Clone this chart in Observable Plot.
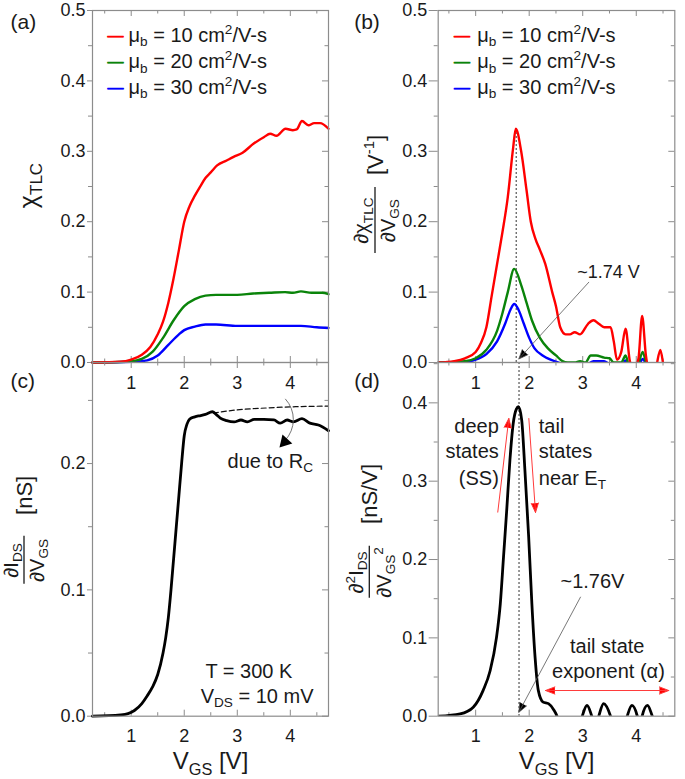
<!DOCTYPE html>
<html><head><meta charset="utf-8">
<script src="https://cdn.jsdelivr.net/npm/d3@7"></script>
<script src="https://cdn.jsdelivr.net/npm/@observablehq/plot@0.6"></script>
<style>
body{margin:0;background:#fff;}
#fig{position:relative;width:685px;height:779px;overflow:hidden;background:#fff;}
.pnl{position:absolute;}
</style></head><body><div id="fig"></div><script>
// ---------- tick values ----------
const xMajor = [1, 2, 3, 4];
const xMinor = [0.5, 1.5, 2.5, 3.5, 4.5];
const yMajorA = [0, 0.1, 0.2, 0.3, 0.4, 0.5];
const yMinorA = [0.05, 0.15, 0.25, 0.35, 0.45];
const yMajorC = [0, 0.1, 0.2];
const yMinorC = [0.05, 0.15, 0.25];
const yMajorD = [0, 0.1, 0.2, 0.3, 0.4];
const yMinorD = [0.05, 0.15, 0.25, 0.35, 0.45];

// ---------- series ----------
const seriesColors = ["#ff0000", "#0a840a", "#0000ff"];
const legendLabels = ["μ_{b} = 10 cm^{2}/V-s", "μ_{b} = 20 cm^{2}/V-s", "μ_{b} = 30 cm^{2}/V-s"];

// (a) chi_TLC vs VGS
const aVgs10 = [0.27,0.8,1.0,1.2,1.36,1.5,1.6,1.7,1.8,1.9,2.0,2.1,2.2,2.3,2.4,2.5,2.62,2.8,2.93,3.1,3.31,3.5,3.62,3.74,3.91,4.05,4.12,4.22,4.34,4.45,4.56,4.72];
const aChi10 = [0,0.001,0.004,0.011,0.022,0.04,0.058,0.085,0.12,0.16,0.2,0.222,0.237,0.25,0.262,0.27,0.28,0.287,0.292,0.298,0.311,0.32,0.325,0.322,0.332,0.330,0.331,0.343,0.337,0.34,0.340,0.332];
const aVgs20 = [0.27,0.9,1.1,1.2,1.4,1.6,1.8,2.0,2.2,2.4,2.6,3.0,3.3,3.6,3.9,4.05,4.2,4.4,4.6,4.72];
const aChi20 = [0,0.001,0.003,0.005,0.015,0.035,0.06,0.08,0.09,0.095,0.096,0.096,0.098,0.099,0.1,0.099,0.101,0.099,0.099,0.097];
const aVgs30 = [0.27,1.0,1.2,1.3,1.5,1.7,1.9,2.0,2.2,2.4,2.6,3.0,3.5,4.0,4.2,4.5,4.72];
const aChi30 = [0,0.001,0.002,0.003,0.01,0.025,0.04,0.046,0.051,0.054,0.054,0.052,0.052,0.052,0.052,0.05,0.049];

// (b) d chi / d VGS
const bVgs10 = [0.3,0.6,0.8,1.0,1.1,1.2,1.3,1.4,1.5,1.6,1.7,1.75,1.85,1.95,2.03,2.12,2.2,2.3,2.43,2.5,2.58,2.68,2.76,2.85,2.95,3.1,3.2,3.3,3.4,3.52,3.58,3.64,3.72,3.8,3.88,3.95,4.04,4.11,4.18,4.25,4.35,4.45,4.53,4.72];
const bD10 = [0,0.002,0.006,0.015,0.028,0.05,0.095,0.14,0.185,0.235,0.305,0.332,0.3,0.245,0.2,0.175,0.16,0.14,0.1,0.08,0.05,0.04,0.04,0.043,0.04,0.055,0.06,0.055,0.05,0.05,0.03,0.004,0.015,0.048,0.002,-0.01,0.005,0.066,0.01,-0.01,-0.01,0.018,-0.01,-0.01];
const bVgs20 = [0.3,0.8,1.0,1.2,1.4,1.5,1.6,1.72,1.85,1.95,2.05,2.2,2.35,2.5,2.62,2.72,2.85,2.95,3.05,3.15,3.25,3.4,3.5,3.58,3.72,3.8,3.87,4.02,4.12,4.2,4.3,4.72];
const bD20 = [0,0.002,0.006,0.018,0.045,0.07,0.1,0.133,0.11,0.085,0.06,0.035,0.02,0.01,0.002,0,0,0.002,0,0.01,0.01,0.007,0.006,0,0,0.01,-0.005,-0.005,0.015,-0.005,-0.01,-0.01];
const bVgs30 = [0.3,0.8,1.0,1.2,1.4,1.55,1.65,1.72,1.8,1.9,2.0,2.1,2.25,2.4,2.55,2.7,3.1,3.2,3.4,3.5,3.75,3.8,3.85,4.05,4.12,4.2,4.3,4.72];
const bD30 = [0,0.001,0.004,0.012,0.03,0.055,0.075,0.083,0.075,0.055,0.035,0.02,0.01,0.004,0,-0.005,-0.002,0.002,0.002,-0.002,-0.002,0.003,-0.002,-0.002,0.005,-0.005,-0.01,-0.01];

// (c) dIDS/dVGS
const cVgs = [0.27,0.8,0.94,1.06,1.2,1.3,1.4,1.5,1.6,1.65,1.7,1.75,1.8,1.85,1.9,1.95,2.0,2.05,2.1,2.2,2.31,2.4,2.53,2.6,2.68,2.8,2.94,3.07,3.19,3.32,3.5,3.69,3.81,3.94,4.06,4.22,4.37,4.53,4.72];
const cG = [0,0.001,0.002,0.0045,0.01,0.016,0.023,0.033,0.05,0.062,0.078,0.1,0.125,0.15,0.175,0.2,0.222,0.231,0.235,0.237,0.238,0.239,0.241,0.239,0.236,0.234,0.233,0.2345,0.233,0.235,0.235,0.2345,0.232,0.2345,0.233,0.2355,0.232,0.2305,0.226];
const cDashV = [2.55, 3.0, 3.55, 4.1, 4.72];
const cDashG = [0.240, 0.2425, 0.244, 0.245, 0.2455];

// (d) d2IDS/dVGS2
const dVgs = [0.31,0.71,0.955,1.14,1.27,1.39,1.46,1.52,1.58,1.64,1.70,1.76,1.80,1.86,1.92,1.99,2.05,2.11,2.17,2.26,2.36,2.46,2.52,2.6,2.9,2.99,3.08,3.17,3.24,3.3,3.39,3.52,3.6,3.75,3.83,3.92,4.02,4.07,4.11,4.21,4.3,4.4,4.72];
const dG2 = [0,0.003,0.0115,0.033,0.058,0.101,0.1435,0.203,0.263,0.327,0.373,0.392,0.395,0.378,0.314,0.229,0.1435,0.075,0.033,0.018,0.016,0.008,0,-0.02,-0.02,0,0.0137,0,-0.015,0,0.016,0,-0.02,-0.02,0,0.0137,0,-0.015,0,0.0137,0,-0.02,-0.02];

// ---------- annotations ----------
const bPeakMark = [{x: 1.757, y: 0.332}];
const bNote = [{x: 2.897, y: 0.128, t: "~1.74 V"}];
const bArrow = [{x1: 3.113, y1: 0.114, x2: 1.806, y2: 0.005}];
const cNotes = [
  {x: 2.40, y: 0.0354, t: "T = 300 K"},
  {x: 2.31, y: 0.0156, t: "V_{DS} = 10 mV"},
  {x: 2.816, y: 0.2018, t: "due to R_{C}"}
];
const cCurl = [{x1: 3.91, y1: 0.251, x2: 3.905, y2: 0.2185}];
const cCurlHead = [{x: 3.895, y: 0.2172}];
const dPeakLine = [1.81];
const dLeftNotes = [{x: 1.432, y: 0.37, t: "deep"}, {x: 1.432, y: 0.338, t: "states"}, {x: 1.432, y: 0.3035, t: "(SS)"}];
const dRightNotes = [{x: 2.179, y: 0.37, t: "tail"}, {x: 2.179, y: 0.338, t: "states"}, {x: 2.179, y: 0.3035, t: "near E_{T}"}];
const dRedArrows = [
  {x1: 1.413, y1: 0.2605, x2: 1.619, y2: 0.38},
  {x1: 1.993, y1: 0.38, x2: 2.118, y2: 0.26},
  {x1: 3.456, y1: 0.0328, x2: 2.305, y2: 0.0328},
  {x1: 3.456, y1: 0.0328, x2: 4.608, y2: 0.0328}
];
const dNote = [{x: 2.585, y: 0.172, t: "~1.76V"}];
const dArrow = [{x1: 2.958, y1: 0.152, x2: 1.806, y2: 0.005}];
const dTailNotes = [{x: 3.457, y: 0.089, t: "tail state"}, {x: 3.48, y: 0.057, t: "exponent (α)"}];

// ---------- helpers ----------
const FONT = '"Liberation Sans", Arial, Helvetica, sans-serif';
const GRID = "#8c8c8c";
const INK = "#1a1a1a";
const TICK_FS = 18;
const MID = "middle";
const rows = (xs, ys) => xs.map((x, i) => ({x, y: ys[i]}));

function richify(svg) {
  const ns = "http://www.w3.org/2000/svg";
  svg.querySelectorAll("text").forEach((t) => {
    const s = t.textContent;
    if (!/[_^]\{/.test(s)) return;
    let fs = 16;
    for (let n = t; n && n !== svg; n = n.parentNode) {
      const a = n.getAttribute && n.getAttribute("font-size");
      if (a) { fs = parseFloat(a); break; }
    }
    t.textContent = "";
    const re = /([_^])\{([^}]*)\}/g;
    let last = 0, m, shift = 0;
    const add = (str, kind) => {
      if (!str) return;
      const sp = document.createElementNS(ns, "tspan");
      const target = kind === "_" ? 0.22 * fs : kind === "^" ? -0.4 * fs : 0;
      if (target !== shift) sp.setAttribute("dy", target - shift);
      shift = target;
      if (kind) sp.setAttribute("font-size", 0.68 * fs);
      sp.textContent = str;
      t.appendChild(sp);
    };
    while ((m = re.exec(s))) { add(s.slice(last, m.index), null); add(m[2], m[1]); last = re.lastIndex; }
    add(s.slice(last), null);
  });
}

function makePanel(c) {
  const W = c.width - c.ml - c.mr, H = c.height - c.mt - c.mb;
  const tk = {stroke: GRID, strokeWidth: 1};
  const marks = [
    Plot.tickX(xMajor, {x: d => d, insetTop: H - 6, ...tk}),
    Plot.tickX(xMinor, {x: d => d, insetTop: H - 3.5, ...tk}),
    Plot.tickX(xMajor, {x: d => d, insetBottom: H - 6, ...tk}),
    Plot.tickX(xMinor, {x: d => d, insetBottom: H - 3.5, ...tk}),
    Plot.tickY(c.yMajor, {y: d => d, insetLeft: W - 6, ...tk}),
    Plot.tickY(c.yMinor, {y: d => d, insetLeft: W - 3.5, ...tk}),
    Plot.tickY(c.yMajor, {y: d => d, insetLeft: -c.lt, insetRight: W, ...tk}),
    Plot.tickY(c.yMinor, {y: d => d, insetLeft: -4, insetRight: W, ...tk}),
    Plot.text(c.yMajor, {y: d => d, text: d => d.toFixed(1), frameAnchor: "left", textAnchor: "end", lineAnchor: MID, dx: -(c.lt + 2), fontSize: TICK_FS, fill: INK}),
    Plot.text([c.label], {text: d => d, frameAnchor: "top-left", textAnchor: "start", lineAnchor: MID, dx: c.labelDx, dy: c.labelDy, fontSize: 21, fill: INK})
  ];
  if (c.bottom) {
    marks.push(
      Plot.text(xMajor, {x: d => d, text: d => String(d), frameAnchor: "bottom", textAnchor: MID, lineAnchor: MID, dy: 20.5, fontSize: TICK_FS, fill: INK}),
      Plot.text(xMajor, {x: d => d, text: d => String(d), frameAnchor: "top", textAnchor: MID, lineAnchor: MID, dy: 21, fontSize: TICK_FS, fill: INK}),
      Plot.text(["V_{GS} [V]"], {text: d => d, frameAnchor: "bottom", textAnchor: MID, lineAnchor: MID, dy: 45.5, fontSize: 24, fill: INK})
    );
  }
  for (const yt of c.yTitles) {
    marks.push(Plot.text([yt.t], {text: d => d, frameAnchor: "left", textAnchor: MID, lineAnchor: MID, rotate: -90, dx: yt.dx, dy: yt.dy, fontSize: yt.fs, fill: INK}));
  }
  marks.push(...c.marks, Plot.frame({stroke: GRID, strokeWidth: 1.2}));
  const svg = Plot.plot({
    width: c.width, height: c.height,
    marginLeft: c.ml, marginRight: c.mr, marginTop: c.mt, marginBottom: c.mb,
    style: {background: "transparent", overflow: "visible", fontFamily: FONT},
    x: {domain: c.xDomain, axis: null},
    y: {domain: c.yDomain, axis: null},
    marks
  });
  richify(svg);
  const midY = c.mt + H / 2;
  for (const b of (c.bars || [])) {
    d3.select(svg).append("line")
      .attr("x1", c.ml + b.dx).attr("x2", c.ml + b.dx)
      .attr("y1", midY + b.dy - b.half).attr("y2", midY + b.dy + b.half)
      .attr("stroke", INK).attr("stroke-width", 1.3);
  }
  const div = document.createElement("div");
  div.className = "pnl";
  div.style.left = c.left + "px"; div.style.top = c.top + "px";
  div.style.width = c.width + "px"; div.style.height = c.height + "px";
  div.appendChild(svg);
  document.getElementById("fig").appendChild(div);
}

function legendMarks(swEnd, txDx) {
  const out = [];
  const rowsDy = [25, 51.5, 77];
  legendLabels.forEach((lab, i) => {
    out.push(Plot.text(["—"], {text: d => d, frameAnchor: "top-left", textAnchor: "end", lineAnchor: MID, dx: swEnd, dy: rowsDy[i], fontSize: 16, fill: seriesColors[i], stroke: seriesColors[i], strokeWidth: 0.7}));
    out.push(Plot.text([lab], {text: d => d, frameAnchor: "top-left", textAnchor: "start", lineAnchor: MID, dx: txDx, dy: rowsDy[i], fontSize: 20, fill: INK}));
  });
  return out;
}

const curve = "monotone-x";
const headFill = (len, sw) => len * 1.5 / sw;

// (a)
makePanel({
  left: 0, top: 0, width: 340, height: 372, ml: 92, mr: 12, mt: 10, mb: 10,
  xDomain: [0.27, 4.72], yDomain: [0, 0.5], yMajor: yMajorA, yMinor: yMinorA, lt: 5,
  label: "(a)", labelDx: -82, labelDy: 12,
  yTitles: [{t: "χ_{TLC}", dx: -64, dy: -1, fs: 25}],
  marks: [
    Plot.line(rows(aVgs30, aChi30), {x: "x", y: "y", stroke: seriesColors[2], strokeWidth: 2.4, curve}),
    Plot.line(rows(aVgs20, aChi20), {x: "x", y: "y", stroke: seriesColors[1], strokeWidth: 2.4, curve}),
    Plot.line(rows(aVgs10, aChi10), {x: "x", y: "y", stroke: seriesColors[0], strokeWidth: 2.4, curve}),
    ...legendMarks(31, 36)
  ]
});

// (b)
makePanel({
  left: 340, top: 0, width: 345, height: 372, ml: 97.7, mr: 10.7, mt: 10, mb: 10,
  xDomain: [0.3, 4.72], yDomain: [0, 0.5], yMajor: yMajorA, yMinor: yMinorA, lt: 9,
  label: "(b)", labelDx: -84, labelDy: 12,
  yTitles: [
    {t: "∂χ_{TLC}", dx: -76.5, dy: 34, fs: 20},
    {t: "∂V_{GS}", dx: -50, dy: 34, fs: 20},
    {t: "[V^{-1}]", dx: -62.7, dy: -31.5, fs: 22}
  ],
  bars: [{dx: -62.7, dy: 34, half: 33}],
  marks: [
    Plot.ruleX(bPeakMark, {x: "x", y1: 0, y2: "y", stroke: "#333", strokeWidth: 1, strokeDasharray: "2,2"}),
    Plot.line(rows(bVgs30, bD30), {x: "x", y: "y", stroke: seriesColors[2], strokeWidth: 2.4, curve, clip: true}),
    Plot.line(rows(bVgs20, bD20), {x: "x", y: "y", stroke: seriesColors[1], strokeWidth: 2.4, curve, clip: true}),
    Plot.line(rows(bVgs10, bD10), {x: "x", y: "y", stroke: seriesColors[0], strokeWidth: 2.4, curve, clip: true}),
    Plot.arrow(bArrow, {x1: "x1", y1: "y1", x2: "x2", y2: "y2", stroke: "#555", fill: "#000", strokeWidth: 0.8, headLength: headFill(10, 0.8), headAngle: 45}),
    Plot.text(bNote, {x: "x", y: "y", text: "t", textAnchor: "start", lineAnchor: MID, fontSize: 18, fill: INK}),
    ...legendMarks(31.8, 39)
  ]
});

// (c)
makePanel({
  left: 0, top: 340, width: 340, height: 439, ml: 92, mr: 12, mt: 22, mb: 63.3, bottom: true,
  xDomain: [0.27, 4.72], yDomain: [0, 0.28], yMajor: yMajorC, yMinor: yMinorC, lt: 5,
  label: "(c)", labelDx: -82, labelDy: 19,
  yTitles: [
    {t: "∂I_{DS}", dx: -81, dy: 21, fs: 20},
    {t: "∂V_{GS}", dx: -55, dy: 21, fs: 20},
    {t: "[nS]", dx: -68, dy: -44, fs: 22}
  ],
  bars: [{dx: -68, dy: 21, half: 24}],
  marks: [
    Plot.line(rows(cDashV, cDashG), {x: "x", y: "y", stroke: "#111", strokeWidth: 1.2, strokeDasharray: "5,3", curve}),
    Plot.line(rows(cVgs, cG), {x: "x", y: "y", stroke: "#000", strokeWidth: 2.8, curve}),
    Plot.arrow(cCurl, {x1: "x1", y1: "y1", x2: "x2", y2: "y2", bend: 43, headLength: 0, stroke: "#666", strokeWidth: 0.9}),
    Plot.dot(cCurlHead, {x: "x", y: "y", symbol: "triangle", r: 5, fill: "#000", rotate: 223}),
    Plot.text(cNotes, {x: "x", y: "y", text: "t", textAnchor: "start", lineAnchor: MID, fontSize: 20, fill: INK})
  ]
});

// (d)
makePanel({
  left: 340, top: 340, width: 345, height: 439, ml: 97.7, mr: 10.7, mt: 22, mb: 63.3, bottom: true,
  xDomain: [0.3, 4.72], yDomain: [0, 0.4515], yMajor: yMajorD, yMinor: yMinorD, lt: 9,
  label: "(d)", labelDx: -84, labelDy: 19,
  yTitles: [
    {t: "∂^{2}I_{DS}", dx: -82, dy: 33, fs: 20},
    {t: "∂V_{GS}^{2}", dx: -54, dy: 33, fs: 20},
    {t: "[nS/V]", dx: -68.4, dy: -45.4, fs: 22}
  ],
  bars: [{dx: -68.4, dy: 33, half: 26}],
  marks: [
    Plot.ruleX(dPeakLine, {x: d => d, stroke: "#333", strokeWidth: 1, strokeDasharray: "2,2"}),
    Plot.line(rows(dVgs, dG2), {x: "x", y: "y", stroke: "#000", strokeWidth: 2.8, curve, clip: true}),
    Plot.arrow(dRedArrows, {x1: "x1", y1: "y1", x2: "x2", y2: "y2", stroke: "#ff3b3b", fill: "#ff0000", strokeWidth: 1, headLength: headFill(10, 1), headAngle: 42}),
    Plot.arrow(dArrow, {x1: "x1", y1: "y1", x2: "x2", y2: "y2", stroke: "#555", fill: "#000", strokeWidth: 0.8, headLength: headFill(10, 0.8), headAngle: 45}),
    Plot.text(dNote, {x: "x", y: "y", text: "t", textAnchor: "start", lineAnchor: MID, fontSize: 20, fill: INK}),
    Plot.text(dLeftNotes, {x: "x", y: "y", text: "t", textAnchor: "end", lineAnchor: MID, fontSize: 20, fill: INK}),
    Plot.text(dRightNotes, {x: "x", y: "y", text: "t", textAnchor: "start", lineAnchor: MID, fontSize: 20, fill: INK}),
    Plot.text(dTailNotes, {x: "x", y: "y", text: "t", textAnchor: MID, lineAnchor: MID, fontSize: 20, fill: INK})
  ]
});
</script></body></html>
